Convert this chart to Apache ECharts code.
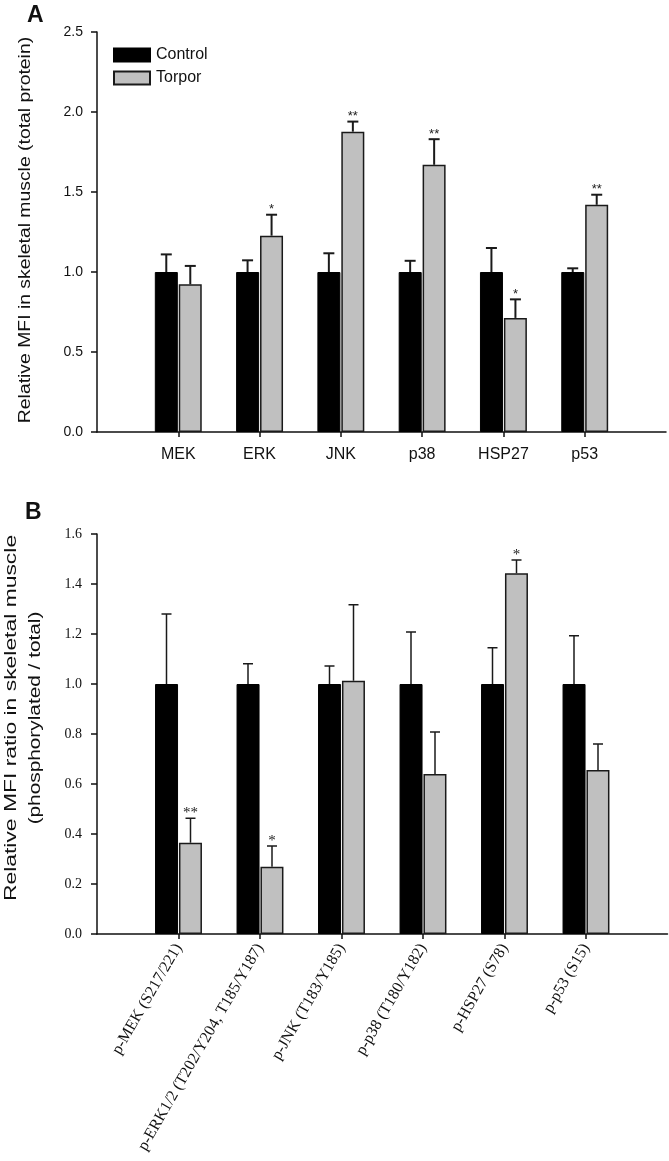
<!DOCTYPE html>
<html>
<head>
<meta charset="utf-8">
<script src="https://cdn.jsdelivr.net/npm/echarts@6/dist/echarts.min.js"></script>
<style>html,body{margin:0;padding:0;background:#fff;}#c{width:669px;height:1161px;}</style>
</head>
<body>
<div id="c"></div>
<script>
// ---- Panel A data ----
const categoriesA = ['MEK', 'ERK', 'JNK', 'p38', 'HSP27', 'p53'];
const controlA = [1.0, 1.0, 1.0, 1.0, 1.0, 1.0];
const controlErrA = [0.11, 0.073, 0.117, 0.07, 0.15, 0.023];
const torporA = [0.923, 1.227, 1.877, 1.67, 0.713, 1.42];
const torporErrA = [0.115, 0.131, 0.063, 0.16, 0.116, 0.063];
const starsA = ['', '*', '**', '**', '*', '**'];
const ticksA = [0, 0.5, 1.0, 1.5, 2.0, 2.5];

// ---- Panel B data ----
const categoriesB = ['p-MEK (S217/221)', 'p-ERK1/2 (T202/Y204, T185/Y187)', 'p-JNK (T183/Y185)', 'p-p38 (T180/Y182)', 'p-HSP27 (S78)', 'p-p53 (S15)'];
const controlB = [1.0, 1.0, 1.0, 1.0, 1.0, 1.0];
const controlErrB = [0.28, 0.081, 0.072, 0.208, 0.145, 0.193];
const torporB = [0.365, 0.269, 1.013, 0.64, 1.443, 0.656];
const torporErrB = [0.098, 0.083, 0.304, 0.168, 0.053, 0.104];
const starsB = ['**', '*', '', '', '*', ''];
const ticksB = [0, 0.2, 0.4, 0.6, 0.8, 1.0, 1.2, 1.4, 1.6];

const pad = arr => [''].concat(arr).concat(['']);
const barData = arr => arr.map((v, i) => [i + 1, v]);
const errData = (m, e, s) => m.map((v, i) => [i + 1, v, e[i], s ? s[i] : '']);

function errSeries(name, xi, data, offset, lw, capW, starFont) {
  return {
    type: 'custom', name: name, xAxisIndex: xi, yAxisIndex: xi, z: 5,
    data: data,
    encode: { x: 0, y: [1] },
    renderItem: function (params, api) {
      const x = api.value(0), m = api.value(1), e = api.value(2);
      const star = api.value(3);
      const p0 = api.coord([x, m]);
      const p1 = api.coord([x, m + e]);
      const cx = p0[0] + offset;
      const children = [
        { type: 'line', shape: { x1: cx, y1: p0[1], x2: cx, y2: p1[1] }, style: { stroke: '#1a1a1a', lineWidth: lw } },
        { type: 'line', shape: { x1: cx - capW / 2, y1: p1[1], x2: cx + capW / 2, y2: p1[1] }, style: { stroke: '#1a1a1a', lineWidth: lw } }
      ];
      if (star) {
        children.push({ type: 'text', x: cx, y: p1[1] - 5, style: { text: star, font: starFont, fill: '#222', textAlign: 'center', textVerticalAlign: 'middle' } });
      }
      return { type: 'group', children: children };
    }
  };
}

const showIdx = (i) => i >= 1 && i <= 6;

const chart = echarts.init(document.getElementById('c'), null, { renderer: 'canvas' });
const option = {
  animation: false,
  backgroundColor: '#fff',
  legend: {
    data: ['Control', 'Torpor'],
    orient: 'vertical', left: 108, top: 42,
    itemWidth: 36, itemHeight: 13, itemGap: 7,
    icon: 'rect',
    textStyle: { fontFamily: 'Liberation Sans, Arial', fontSize: 16, color: '#111', padding: [0, 0, 0, 1] }
  },
  grid: [
    { left: 97, top: 32, width: 572, height: 400 },
    { left: 97, top: 534, width: 572, height: 400 }
  ],
  xAxis: [
    {
      type: 'category', gridIndex: 0, data: pad(categoriesA), boundaryGap: false,
      axisLine: { lineStyle: { color: '#111', width: 1.5 } },
      axisTick: { length: 5, lineStyle: { color: '#111', width: 1.5 }, interval: (i) => showIdx(i) },
      axisLabel: { interval: 0, margin: 15, fontFamily: 'Liberation Sans, Arial', fontSize: 16, color: '#111' },
      splitLine: { show: false }
    },
    {
      type: 'category', gridIndex: 1, data: pad(categoriesB), boundaryGap: false,
      axisLine: { lineStyle: { color: '#111', width: 1.5 } },
      axisTick: { length: 5, lineStyle: { color: '#111', width: 1.5 }, interval: (i) => showIdx(i) },
      axisLabel: { interval: 0, rotate: 60, margin: 11, fontFamily: 'Liberation Serif, Times New Roman', fontSize: 16, color: '#111' },
      splitLine: { show: false }
    }
  ],
  yAxis: [
    {
      type: 'value', gridIndex: 0, min: ticksA[0], max: ticksA[ticksA.length - 1], interval: 0.5,
      axisLine: { show: true, lineStyle: { color: '#111', width: 1.5 } },
      axisTick: { show: true, length: 6, lineStyle: { color: '#111', width: 1.5 } },
      axisLabel: { margin: 14, fontFamily: 'Liberation Sans, Arial', fontSize: 14, color: '#111', formatter: v => v.toFixed(1) },
      splitLine: { show: false }
    },
    {
      type: 'value', gridIndex: 1, min: ticksB[0], max: ticksB[ticksB.length - 1], interval: 0.2,
      axisLine: { show: true, lineStyle: { color: '#111', width: 1.5 } },
      axisTick: { show: true, length: 6, lineStyle: { color: '#111', width: 1.5 } },
      axisLabel: { margin: 15, fontFamily: 'Liberation Serif, Times New Roman', fontSize: 14, color: '#111', formatter: v => v.toFixed(1) },
      splitLine: { show: false }
    }
  ],
  series: [
    { type: 'bar', name: 'Control', xAxisIndex: 0, yAxisIndex: 0, data: barData(controlA), barWidth: 23, barGap: '4%',
      itemStyle: { color: '#000', borderColor: '#000', borderWidth: 1 } },
    { type: 'bar', name: 'Torpor', xAxisIndex: 0, yAxisIndex: 0, data: barData(torporA), barWidth: 23, barGap: '4%',
      itemStyle: { color: '#c0c0c0', borderColor: '#1a1a1a', borderWidth: 1.5 } },
    errSeries('errCA', 0, errData(controlA, controlErrA), -12, 2, 11, '13px Liberation Sans'),
    errSeries('errTA', 0, errData(torporA, torporErrA, starsA), 12, 2, 11, '13px Liberation Sans'),
    { type: 'bar', name: 'Control', xAxisIndex: 1, yAxisIndex: 1, data: barData(controlB), barWidth: 23, barGap: '4%',
      itemStyle: { color: '#000', borderColor: '#000', borderWidth: 1 } },
    { type: 'bar', name: 'Torpor', xAxisIndex: 1, yAxisIndex: 1, data: barData(torporB), barWidth: 23, barGap: '4%',
      itemStyle: { color: '#c0c0c0', borderColor: '#1a1a1a', borderWidth: 1.5 } },
    errSeries('errCB', 1, errData(controlB, controlErrB), -12, 1.5, 10, '15px Liberation Serif'),
    errSeries('errTB', 1, errData(torporB, torporErrB, starsB), 12, 1.5, 10, '15px Liberation Serif')
  ],
  graphic: [
    { type: 'text', x: 27, y: 16, style: { text: 'A', font: 'bold 23px Liberation Sans', fill: '#111', textAlign: 'left', textVerticalAlign: 'middle' } },
    { type: 'text', x: 25, y: 513, style: { text: 'B', font: 'bold 23px Liberation Sans', fill: '#111', textAlign: 'left', textVerticalAlign: 'middle' } },
    { type: 'text', x: 26, y: 230, rotation: Math.PI / 2, scaleX: 1.21, style: { text: 'Relative MFI in skeletal muscle (total protein)', font: '16px Liberation Sans', fill: '#111', textAlign: 'center', textVerticalAlign: 'middle' } },
    { type: 'text', x: 12, y: 718, rotation: Math.PI / 2, scaleX: 1.43, style: { text: 'Relative MFI ratio in skeletal muscle', font: '16px Liberation Sans', fill: '#111', textAlign: 'center', textVerticalAlign: 'middle' } },
    { type: 'text', x: 36, y: 718, rotation: Math.PI / 2, scaleX: 1.3, style: { text: '(phosphorylated / total)', font: '16px Liberation Sans', fill: '#111', textAlign: 'center', textVerticalAlign: 'middle' } }
  ]
};
chart.setOption(option);
</script>
</body>
</html>
